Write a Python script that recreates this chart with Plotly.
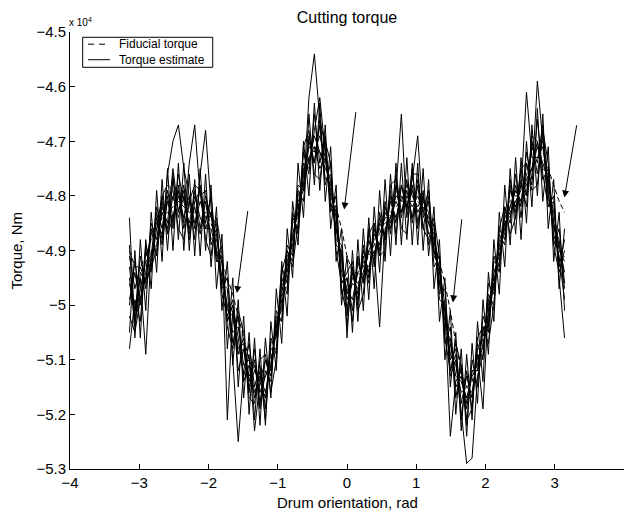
import numpy as np
import plotly.graph_objects as go

# Drum orientation grid, rad (uniform angular sampling over one revolution)
n_pts = 81
angle = np.linspace(-np.pi, np.pi, n_pts)

# Torque values in units of 1e4 Nm
fiducial = [-4.90,-4.93,-4.93,-4.91,-4.88,-4.86,-4.84,-4.83,-4.82,-4.81,
 -4.82,-4.83,-4.83,-4.83,-4.83,-4.85,-4.88,-4.92,-4.95,-4.98,
 -5.02,-5.06,-5.10,-5.12,-5.14,-5.13,-5.10,-5.05,-4.99,-4.94,
 -4.88,-4.82,-4.77,-4.73,-4.71,-4.72,-4.74,-4.78,-4.82,-4.86,
 -4.91,-4.94,-4.94,-4.93,-4.91,-4.89,-4.86,-4.85,-4.83,-4.82,
 -4.81,-4.81,-4.81,-4.81,-4.82,-4.84,-4.88,-4.92,-4.96,-5.01,
 -5.07,-5.12,-5.15,-5.14,-5.10,-5.06,-5.01,-4.95,-4.90,-4.85,
 -4.81,-4.80,-4.80,-4.78,-4.75,-4.73,-4.73,-4.75,-4.78,-4.81,
 -4.83]

est_1 = [-4.84,-5.04,-4.94,-4.96,-4.85,-4.88,-4.81,-4.87,-4.77,-4.83,
 -4.79,-4.88,-4.81,-4.79,-4.86,-4.83,-4.92,-4.92,-5.03,-5.00,
 -5.12,-5.08,-5.16,-5.08,-5.18,-5.10,-5.12,-5.02,-5.03,-4.89,
 -4.91,-4.78,-4.79,-4.62,-4.54,-4.66,-4.71,-4.82,-4.82,-4.98,
 -4.95,-5.03,-4.91,-4.96,-4.86,-4.93,-4.83,-4.88,-4.79,-4.87,
 -4.78,-4.83,-4.75,-4.85,-4.79,-4.89,-4.85,-4.98,-4.97,-5.12,
 -5.09,-5.21,-5.12,-5.19,-5.07,-5.10,-4.96,-4.98,-4.86,-4.88,
 -4.77,-4.83,-4.75,-4.80,-4.69,-4.70,-4.77,-4.75,-4.89,-4.86,
 -4.96]

est_2 = [-5.08,-4.99,-5.03,-4.90,-4.94,-4.83,-4.88,-4.76,-4.70,-4.67,
 -4.75,-4.80,-4.86,-4.78,-4.85,-4.80,-4.90,-4.96,-4.97,-5.10,
 -5.25,-5.12,-5.07,-5.15,-5.11,-5.19,-5.06,-5.09,-4.95,-4.98,
 -4.84,-4.86,-4.72,-4.76,-4.65,-4.74,-4.69,-4.83,-4.80,-4.97,
 -5.02,-4.93,-5.00,-4.89,-4.95,-4.85,-4.90,-4.81,-4.87,-4.78,
 -4.84,-4.77,-4.85,-4.78,-4.86,-4.80,-4.93,-4.91,-5.07,-5.04,
 -5.17,-5.11,-5.22,-5.10,-5.15,-5.02,-5.05,-4.91,-4.94,-4.82,
 -4.85,-4.76,-4.84,-4.74,-4.78,-4.66,-4.76,-4.82,-4.80,-4.95,
 -5.06]

est_3 = [-4.93,-5.02,-4.91,-4.97,-4.92,-4.84,-4.89,-4.80,-4.86,-4.78,
 -4.85,-4.74,-4.67,-4.80,-4.79,-4.89,-4.86,-4.98,-5.02,-4.99,
 -5.09,-5.06,-5.14,-5.10,-5.19,-5.12,-5.14,-5.01,-5.03,-4.90,
 -4.92,-4.79,-4.81,-4.69,-4.74,-4.67,-4.78,-4.74,-4.89,-4.90,
 -5.04,-4.94,-4.99,-4.91,-4.96,-4.86,-4.91,-4.82,-4.86,-4.79,
 -4.65,-4.84,-4.78,-4.86,-4.80,-4.87,-4.86,-4.99,-5.00,-5.13,
 -5.10,-5.20,-5.29,-5.28,-5.13,-5.09,-4.98,-5.00,-4.87,-4.89,
 -4.78,-4.84,-4.77,-4.82,-4.70,-4.76,-4.69,-4.82,-4.81,-4.93,
 -4.88]

est_4 = [-4.99,-4.94,-5.00,-4.89,-4.93,-4.86,-4.80,-4.87,-4.84,-4.79,
 -4.86,-4.81,-4.88,-4.76,-4.68,-4.82,-4.92,-4.91,-5.03,-5.00,
 -5.06,-5.13,-5.09,-5.23,-5.14,-5.17,-5.08,-5.08,-4.96,-4.97,
 -4.85,-4.84,-4.74,-4.75,-4.68,-4.62,-4.72,-4.80,-4.83,-4.96,
 -4.95,-5.01,-4.92,-4.96,-4.88,-4.92,-4.84,-4.88,-4.80,-4.85,
 -4.78,-4.82,-4.77,-4.69,-4.84,-4.81,-4.91,-4.93,-5.05,-5.06,
 -5.15,-5.13,-5.19,-5.12,-5.12,-5.04,-5.04,-4.92,-4.93,-4.83,
 -4.84,-4.78,-4.82,-4.72,-4.77,-4.59,-4.70,-4.80,-4.86,-4.88,
 -4.97]

est_5 = [-4.96,-5.01,-4.95,-5.09,-4.90,-4.89,-4.83,-4.86,-4.80,-4.84,
 -4.80,-4.86,-4.82,-4.87,-4.81,-4.88,-4.87,-4.95,-5.00,-5.05,
 -5.04,-5.11,-5.10,-5.16,-5.13,-5.16,-5.11,-5.04,-5.00,-4.93,
 -4.87,-4.83,-4.75,-4.74,-4.69,-4.72,-4.75,-4.77,-4.86,-4.92,
 -4.99,-4.96,-4.97,-4.92,-4.93,-4.90,-5.04,-4.86,-4.84,-4.81,
 -4.83,-4.80,-4.82,-4.80,-4.83,-4.85,-4.88,-4.96,-5.01,-5.09,
 -5.11,-5.16,-5.15,-5.16,-5.09,-5.19,-5.00,-4.96,-4.89,-4.86,
 -4.82,-4.79,-4.81,-4.77,-4.75,-4.71,-4.74,-4.77,-4.85,-4.89,
 -4.94]

est_6 = [-5.00,-4.92,-4.99,-4.94,-4.86,-4.91,-4.82,-4.85,-4.75,-4.83,
 -4.78,-4.87,-4.79,-4.86,-4.80,-4.84,-4.85,-4.97,-4.95,-5.07,
 -5.02,-5.14,-5.11,-5.17,-5.12,-5.21,-5.07,-5.06,-4.93,-4.96,
 -4.83,-4.87,-4.76,-4.70,-4.74,-4.66,-4.77,-4.76,-4.88,-4.89,
 -5.01,-4.93,-4.98,-4.90,-4.94,-4.87,-4.89,-4.83,-4.85,-4.76,
 -4.83,-4.79,-4.84,-4.77,-4.83,-4.79,-4.90,-4.93,-5.00,-5.10,
 -5.08,-5.18,-5.13,-5.17,-5.08,-5.08,-4.99,-4.97,-4.88,-4.87,
 -4.79,-4.82,-4.78,-4.80,-4.71,-4.74,-4.67,-4.79,-4.87,-4.91,
 -4.99]

est_7 = [-4.91,-4.97,-4.93,-4.96,-4.87,-4.85,-4.87,-4.81,-4.85,-4.76,
 -4.81,-4.85,-4.80,-4.84,-4.86,-4.86,-4.90,-4.92,-5.01,-5.02,
 -5.09,-5.08,-5.13,-5.11,-5.16,-5.13,-5.11,-5.03,-5.01,-4.92,
 -4.89,-4.80,-4.78,-4.71,-4.72,-4.69,-4.73,-4.79,-4.84,-4.94,
 -4.97,-4.99,-4.94,-4.95,-4.90,-4.91,-4.85,-4.87,-4.81,-4.84,
 -4.80,-4.82,-4.79,-4.83,-4.81,-4.83,-4.90,-4.94,-5.03,-5.07,
 -5.13,-5.14,-5.17,-5.13,-5.11,-5.05,-5.02,-4.94,-4.91,-4.84,
 -4.82,-4.79,-4.81,-4.76,-4.75,-4.70,-4.75,-4.76,-4.85,-4.92,
 -4.91]

est_8 = [-4.95,-5.03,-4.97,-4.92,-4.91,-4.82,-4.86,-4.79,-4.84,-4.80,
 -4.84,-4.80,-4.85,-4.81,-4.84,-4.83,-4.91,-4.90,-5.21,-5.01,
 -5.08,-5.07,-5.15,-5.12,-5.14,-5.10,-5.13,-5.04,-4.98,-4.91,
 -4.90,-4.81,-4.79,-4.73,-4.71,-4.75,-4.73,-4.81,-4.86,-4.91,
 -4.98,-4.95,-4.96,-4.94,-4.90,-4.88,-4.87,-4.84,-4.84,-4.80,
 -4.81,-4.78,-4.80,-4.82,-4.80,-4.85,-4.87,-4.96,-5.01,-5.24,
 -5.14,-5.12,-5.18,-5.12,-5.12,-5.07,-5.03,-4.96,-4.92,-4.85,
 -4.83,-4.81,-4.79,-4.61,-4.73,-4.73,-4.71,-4.78,-4.83,-4.90,
 -4.92]

est_9 = [-5.05,-4.90,-5.06,-4.88,-4.97,-4.79,-4.92,-4.75,-4.90,-4.74,
 -4.90,-4.76,-4.91,-4.75,-4.90,-4.78,-4.97,-4.87,-5.08,-4.95,
 -5.15,-5.02,-5.20,-5.06,-5.22,-5.06,-5.17,-4.97,-5.07,-4.86,
 -4.95,-4.74,-4.84,-4.65,-4.78,-4.63,-4.81,-4.71,-4.92,-4.86,
 -5.06,-4.90,-5.03,-4.86,-4.99,-4.82,-4.94,-4.77,-4.91,-4.74,
 -4.89,-4.73,-4.89,-4.74,-4.90,-4.77,-4.97,-4.88,-5.10,-5.01,
 -5.20,-5.08,-5.24,-5.07,-5.18,-4.99,-5.09,-4.88,-4.98,-4.78,
 -4.89,-4.73,-4.88,-4.70,-4.82,-4.64,-4.81,-4.71,-4.92,-4.83,
 -5.01]

est_10 = [-4.89,-5.06,-4.88,-5.01,-4.83,-4.94,-4.77,-4.90,-4.76,-4.88,
 -4.74,-4.90,-4.77,-4.91,-4.76,-4.93,-4.82,-5.01,-4.92,-5.11,
 -4.99,-5.17,-5.05,-5.21,-5.08,-5.22,-5.03,-5.12,-4.92,-5.02,
 -4.81,-4.89,-4.70,-4.80,-4.63,-4.79,-4.67,-4.86,-4.78,-5.00,
 -4.91,-5.05,-4.88,-5.01,-4.84,-4.97,-4.79,-4.92,-4.76,-4.89,
 -4.74,-4.88,-4.74,-4.89,-4.75,-4.91,-4.82,-5.03,-4.95,-5.15,
 -5.05,-5.23,-5.09,-5.21,-5.03,-5.14,-4.94,-5.03,-4.83,-4.93,
 -4.75,-4.87,-4.73,-4.85,-4.67,-4.80,-4.65,-4.86,-4.77,-4.97,
 -4.86]

est_11 = [-5.02,-5.05,-4.99,-4.95,-4.93,-4.90,-4.80,-4.78,-4.79,-4.86,
 -4.88,-4.81,-4.78,-4.79,-4.88,-4.91,-4.84,-4.90,-5.04,-5.08,
 -5.01,-5.05,-5.17,-5.18,-5.10,-5.09,-5.16,-5.10,-4.94,-4.90,
 -4.93,-4.85,-4.71,-4.68,-4.76,-4.77,-4.70,-4.74,-4.90,-4.96,
 -4.94,-4.92,-5.01,-4.98,-4.87,-4.85,-4.91,-4.90,-4.78,-4.77,
 -4.86,-4.87,-4.76,-4.76,-4.86,-4.88,-4.84,-4.91,-5.06,-5.12,
 -5.07,-5.11,-5.21,-5.19,-5.06,-5.04,-5.07,-5.00,-4.86,-4.82,
 -4.87,-4.84,-4.75,-4.74,-4.79,-4.78,-4.68,-4.74,-4.89,-4.94,
 -4.90]

estimates = [est_1, est_2, est_3, est_4, est_5, est_6, est_7, est_8,
             est_9, est_10, est_11]

x_ticks = [-4, -3, -2, -1, 0, 1, 2, 3, 4]
x_tick_labels = ["\u22124", "\u22123", "\u22122", "\u22121", "0", "1", "2", "3", "4"]
y_ticks = [-5.3, -5.2, -5.1, -5.0, -4.9, -4.8, -4.7, -4.6, -4.5]
y_tick_labels = ["\u22125.3", "\u22125.2", "\u22125.1", "\u22125", "\u22124.9",
                 "\u22124.8", "\u22124.7", "\u22124.6", "\u22124.5"]

legend_labels = ["Fiducial torque", "Torque estimate"]

# Arrows: (tail x, tail y, head x, head y)
arrows = [(-1.43, -4.825, -1.59, -4.978),
          (0.13, -4.644, -0.04, -4.825),
          (1.66, -4.840, 1.53, -4.995),
          (3.32, -4.668, 3.14, -4.803)]

FONT = "Liberation Sans, Arial, Helvetica, sans-serif"

fig = go.Figure()
fig.add_trace(go.Scatter(x=angle, y=fiducial, mode="lines", name=legend_labels[0],
                         showlegend=False,
                         line=dict(color="black", width=1, dash="5px,3px")))
for k, est in enumerate(estimates):
    fig.add_trace(go.Scatter(x=angle, y=est, mode="lines", name=legend_labels[1],
                             showlegend=False,
                             line=dict(color="black", width=1)))

annotations = []
for tx, ty, hx, hy in arrows:
    annotations.append(dict(x=hx, y=hy, ax=tx, ay=ty, xref="x", yref="y",
                            axref="x", ayref="y", text="", showarrow=True,
                            arrowhead=2, arrowsize=1.4, arrowwidth=1, arrowcolor="black"))
annotations.append(dict(x=0, y=1, xref="paper", yref="paper", xanchor="left",
                        yanchor="bottom", xshift=-3, yshift=2, showarrow=False,
                        text="x 10<sup>4</sup>", font=dict(size=10, color="black", family=FONT)))
annotations.append(dict(x=0, y=0.5, xref="paper", yref="paper", xanchor="center",
                        yanchor="middle", xshift=-54, textangle=-90, showarrow=False,
                        text="Torque, Nm", font=dict(size=15, color="black", family=FONT)))
annotations.append(dict(x=0.5, y=0, xref="paper", yref="paper", xanchor="center",
                        yanchor="middle", yshift=-33, showarrow=False,
                        text="Drum orientation, rad", font=dict(size=15, color="black", family=FONT)))

# Hand-drawn legend box (paper coordinates)
shapes = [
    dict(type="rect", xref="paper", yref="paper", x0=0.0229, x1=0.2576, y0=0.9192, y1=0.9879,
         line=dict(color="black", width=1), fillcolor="white", layer="above"),
    dict(type="line", xref="paper", yref="paper", x0=0.0325, x1=0.0722, y0=0.9721, y1=0.9721,
         line=dict(color="black", width=1, dash="6px,5px"), layer="above"),
    dict(type="line", xref="paper", yref="paper", x0=0.0325, x1=0.0722, y0=0.9366, y1=0.9366,
         line=dict(color="black", width=1), layer="above"),
]
for lbl, yy in zip(legend_labels, [0.9721, 0.9366]):
    annotations.append(dict(x=0.0857, y=yy, xref="paper", yref="paper", xanchor="left",
                            yanchor="middle", showarrow=False, text=lbl,
                            font=dict(size=12, color="black", family=FONT)))

fig.update_layout(
    width=628, height=513,
    margin=dict(l=70, r=4, t=32, b=44),
    paper_bgcolor="white", plot_bgcolor="white",
    font=dict(family=FONT, size=15, color="black"),
    title=dict(text="Cutting torque", x=0.5, xref="paper", xanchor="center",
               y=1, yref="paper", yanchor="bottom", pad=dict(b=9),
               font=dict(size=16, family=FONT, color="black")),
    showlegend=False,
    annotations=annotations,
    shapes=shapes,
)
fig.update_xaxes(range=[-4, 4], tickvals=x_ticks, ticktext=x_tick_labels,
                 ticks="inside", ticklen=5, tickcolor="black", showline=True,
                 linecolor="black", linewidth=1, showgrid=False, zeroline=False,
                 mirror=False, tickfont=dict(size=15))
fig.update_yaxes(range=[-5.3, -4.5], tickvals=y_ticks, ticktext=y_tick_labels,
                 ticks="inside", ticklen=5, tickcolor="black", showline=True,
                 linecolor="black", linewidth=1, showgrid=False, zeroline=False,
                 mirror=False, tickfont=dict(size=15))

fig.write_html("out.html")
